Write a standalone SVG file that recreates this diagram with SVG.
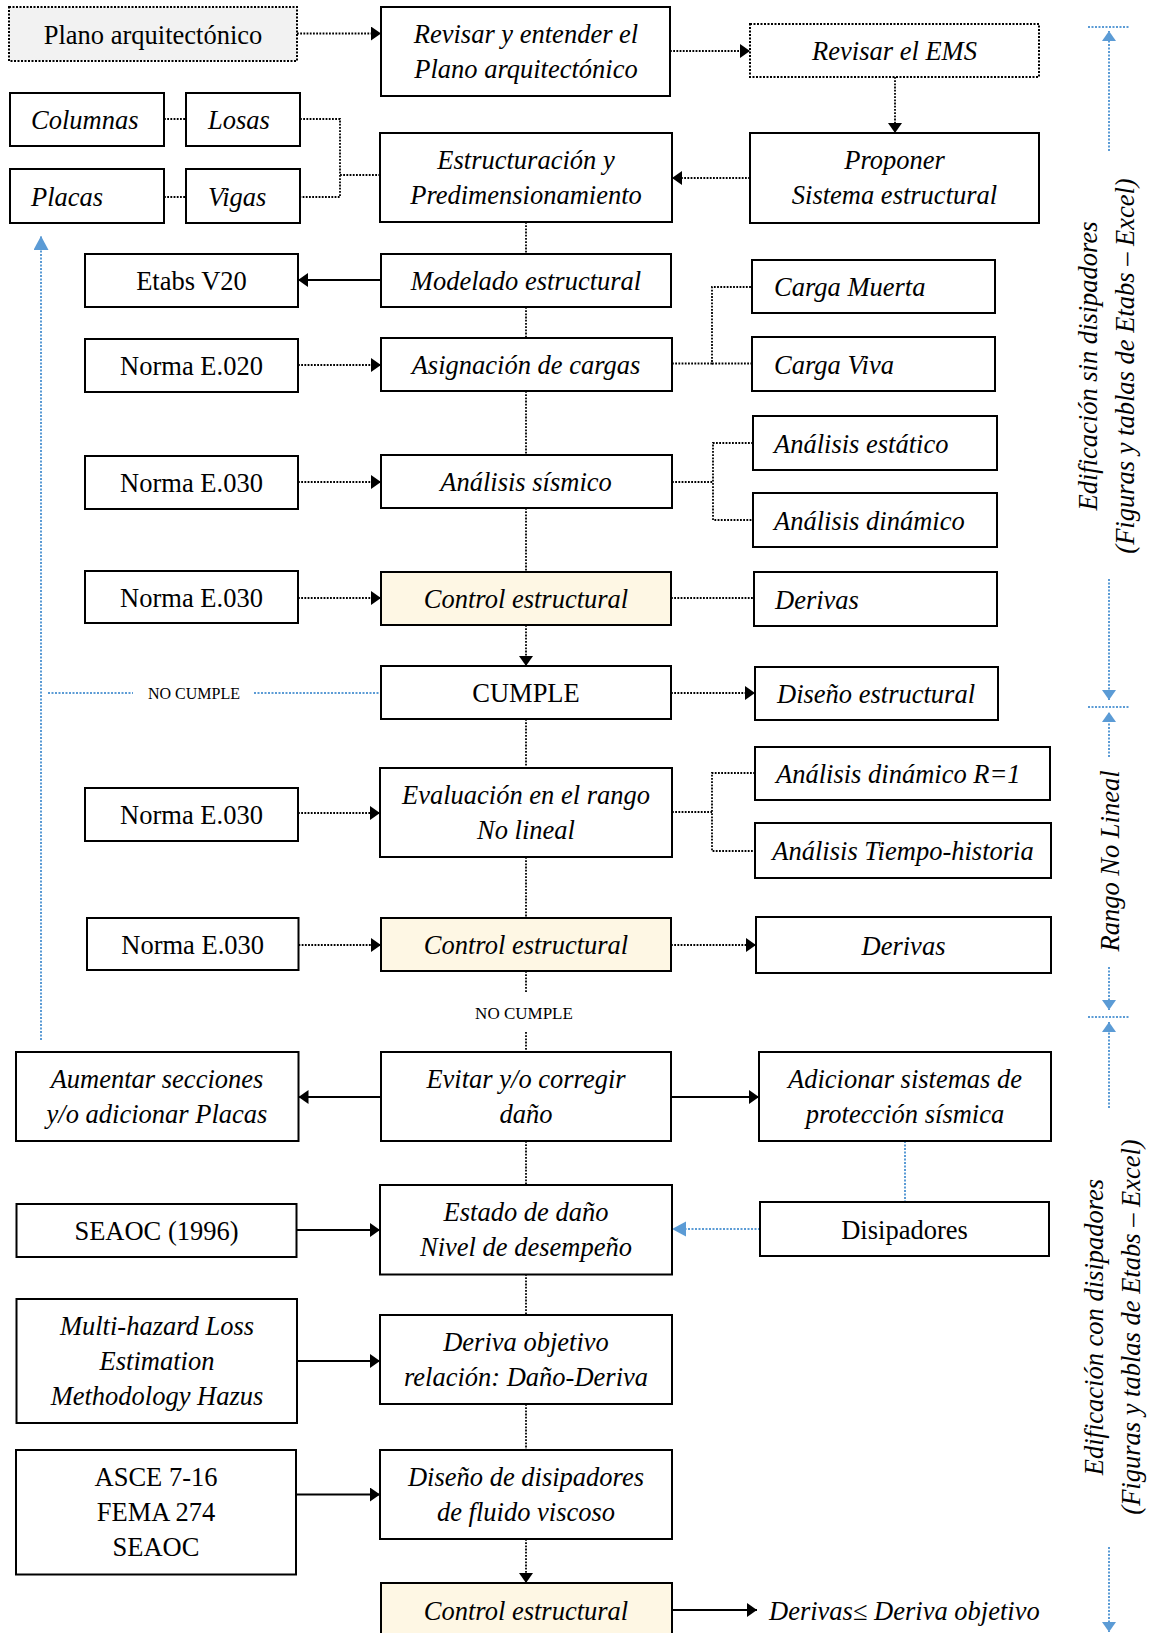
<svg xmlns="http://www.w3.org/2000/svg" width="1149" height="1633" viewBox="0 0 1149 1633">
<style>
.b{fill:#fff;stroke:#000;stroke-width:2}
.db{fill:#fff;stroke:#000;stroke-width:2;stroke-dasharray:2 1.5}
.gray{fill:#f2f2f2}
.cr{fill:#fef7e4}
text{font-family:"Liberation Serif","Times New Roman",serif;font-size:26.5px;fill:#000}
.i{font-style:italic}
.c{text-anchor:middle}
.sm{font-size:16px}
.dot{stroke:#000;stroke-width:1.8;stroke-dasharray:1.8 1.4;fill:none}
.sol{stroke:#000;stroke-width:2;fill:none}
.bl{stroke:#5b9bd5;stroke-width:2;stroke-dasharray:2 1.5;fill:none}
</style>
<defs>
<marker id="ah" markerUnits="userSpaceOnUse" markerWidth="11" markerHeight="15" refX="10" refY="7" orient="auto"><path d="M0,0 L10,7 L0,14 z" fill="#000"/></marker>
<marker id="bh" markerUnits="userSpaceOnUse" markerWidth="15" markerHeight="16" refX="14" refY="7.5" orient="auto"><path d="M0,0 L14,7.5 L0,15 z" fill="#5b9bd5"/></marker>
<marker id="bs" markerUnits="userSpaceOnUse" markerWidth="11" markerHeight="15" refX="10" refY="7" orient="auto"><path d="M0,0 L10,7 L0,14 z" fill="#5b9bd5"/></marker>
</defs>

<g id="connectors">
<!-- top flow -->
<path class="dot" d="M297,33.5 H381" marker-end="url(#ah)"/>
<path class="dot" d="M670,51 H750" marker-end="url(#ah)"/>
<path class="dot" d="M895,77 V133" marker-end="url(#ah)"/>
<path class="dot" d="M750,178 H672" marker-end="url(#ah)"/>
<!-- element brackets -->
<path class="dot" d="M164,119 H186"/>
<path class="dot" d="M164,197 H186"/>
<path class="dot" d="M300,119 H340 V197 H300"/>
<path class="dot" d="M340,175 H380"/>
<!-- main vertical -->
<path class="dot" d="M526,222 V254"/>
<path class="dot" d="M526,307 V338"/>
<path class="dot" d="M526,391 V455"/>
<path class="dot" d="M526,508 V572"/>
<path class="dot" d="M526,625 V666" marker-end="url(#ah)"/>
<path class="dot" d="M526,719 V768"/>
<path class="dot" d="M526,857 V918"/>
<path class="dot" d="M526,971 V992"/>
<path class="dot" d="M526,1032 V1052"/>
<path class="dot" d="M526,1141 V1185"/>
<path class="dot" d="M526,1274 V1315"/>
<path class="dot" d="M526,1404 V1450"/>
<path class="dot" d="M526,1539 V1583" marker-end="url(#ah)"/>
<!-- left inputs -->
<path class="sol" d="M381,280 H298" marker-end="url(#ah)"/>
<path class="dot" d="M298,365 H381" marker-end="url(#ah)"/>
<path class="dot" d="M298,482 H381" marker-end="url(#ah)"/>
<path class="dot" d="M298,598 H381" marker-end="url(#ah)"/>
<path class="dot" d="M298,813 H380" marker-end="url(#ah)"/>
<path class="dot" d="M298.5,945 H381" marker-end="url(#ah)"/>
<path class="sol" d="M381,1097 H298.5" marker-end="url(#ah)"/>
<path class="sol" d="M297,1230 H380" marker-end="url(#ah)"/>
<path class="sol" d="M297,1361 H380" marker-end="url(#ah)"/>
<path class="sol" d="M296,1494.5 H380" marker-end="url(#ah)"/>
<!-- right outputs -->
<path class="dot" d="M672,363.5 H712 V287 H752"/>
<path class="dot" d="M712,363.5 H752"/>
<path class="dot" d="M672,482 H713"/>
<path class="dot" d="M753,443 H713 V520 H753"/>
<path class="dot" d="M671,598 H754"/>
<path class="dot" d="M671,693 H755" marker-end="url(#ah)"/>
<path class="dot" d="M672,812 H712"/>
<path class="dot" d="M755,773 H712 V851 H755"/>
<path class="dot" d="M671,945 H756" marker-end="url(#ah)"/>
<path class="sol" d="M671,1097 H759" marker-end="url(#ah)"/>
<path class="sol" d="M672,1610 H757" marker-end="url(#ah)"/>
<!-- blue -->
<path class="bl" d="M905,1141 V1202"/>
<path class="bl" d="M760,1229 H672" marker-end="url(#bh)"/>
<path class="bl" d="M41,1040 V236" marker-end="url(#bh)"/>
<path class="bl" d="M48,693 H133"/>
<path class="bl" d="M254,693 H381"/>
<!-- right side range markers -->
<path class="bl" d="M1088,27 H1130"/>
<path class="bl" d="M1109,151 V31" marker-end="url(#bs)"/>
<path class="bl" d="M1109,579 V700" marker-end="url(#bs)"/>
<path class="bl" d="M1088,707 H1130"/>
<path class="bl" d="M1109,757 V712" marker-end="url(#bs)"/>
<path class="bl" d="M1109,967 V1010" marker-end="url(#bs)"/>
<path class="bl" d="M1088,1017 H1130"/>
<path class="bl" d="M1109,1108 V1022" marker-end="url(#bs)"/>
<path class="bl" d="M1109,1547 V1632" marker-end="url(#bs)"/>
</g>

<g id="labels">
<text class="c sm" x="194" y="699">NO CUMPLE</text>
<text class="c" x="524" y="1019" style="font-size:17px">NO CUMPLE</text>
<text class="i" x="769" y="1620">Derivas≤ Deriva objetivo</text>
<text class="i c" transform="translate(1097,366) rotate(-90)">Edificación sin disipadores</text>
<text class="i c" transform="translate(1134,366) rotate(-90)">(Figuras y tablas de Etabs – Excel)</text>
<text class="i c" transform="translate(1119,861) rotate(-90)">Rango No Lineal</text>
<text class="i c" transform="translate(1103,1327) rotate(-90)">Edificación con disipadores</text>
<text class="i c" transform="translate(1140,1327) rotate(-90)">(Figuras y tablas de Etabs – Excel)</text>
</g>

<g id="n-plano"><rect class="db gray" x="9" y="7" width="288" height="54"/><text class="c" x="153" y="43.5">Plano arquitectónico</text></g>
<g id="n-revisar"><rect class="b" x="381" y="7" width="289" height="89"/><text class="i c" x="526" y="42.7">Revisar y entender el</text><text class="i c" x="526" y="77.7">Plano arquitectónico</text></g>
<g id="n-ems"><rect class="db" x="750" y="24" width="289" height="53"/><text class="i c" x="894.5" y="60">Revisar el EMS</text></g>
<g id="n-proponer"><rect class="b" x="750" y="133" width="289" height="90"/><text class="i c" x="894.5" y="169">Proponer</text><text class="i c" x="894.5" y="204">Sistema estructural</text></g>
<g id="n-estruct"><rect class="b" x="380" y="133" width="292" height="89"/><text class="i c" x="526" y="168.7">Estructuración y</text><text class="i c" x="526" y="203.7">Predimensionamiento</text></g>
<g id="n-columnas"><rect class="b" x="10" y="93" width="154" height="53"/><text class="i" x="31" y="129">Columnas</text></g>
<g id="n-losas"><rect class="b" x="186" y="93" width="114" height="53"/><text class="i" x="208" y="129">Losas</text></g>
<g id="n-placas"><rect class="b" x="10" y="169" width="154" height="54"/><text class="i" x="31" y="205.5">Placas</text></g>
<g id="n-vigas"><rect class="b" x="186" y="169" width="114" height="54"/><text class="i" x="208" y="205.5">Vigas</text></g>
<g id="n-etabs"><rect class="b" x="85" y="254" width="213" height="53"/><text class="c" x="191.5" y="290">Etabs V20</text></g>
<g id="n-modelado"><rect class="b" x="381" y="254" width="290" height="53"/><text class="i c" x="526" y="290">Modelado estructural</text></g>
<g id="n-cm"><rect class="b" x="752" y="260" width="243" height="53"/><text class="i" x="774" y="296">Carga Muerta</text></g>
<g id="n-e020"><rect class="b" x="85" y="339" width="213" height="53"/><text class="c" x="191.5" y="375">Norma E.020</text></g>
<g id="n-asig"><rect class="b" x="381" y="338" width="291" height="53"/><text class="i c" x="526" y="374">Asignación de cargas</text></g>
<g id="n-cv"><rect class="b" x="752" y="337" width="243" height="54"/><text class="i" x="774" y="373.5">Carga Viva</text></g>
<g id="n-aest"><rect class="b" x="753" y="416" width="244" height="54"/><text class="i" x="774" y="452.5">Análisis estático</text></g>
<g id="n-e030a"><rect class="b" x="85" y="456" width="213" height="53"/><text class="c" x="191.5" y="492">Norma E.030</text></g>
<g id="n-asis"><rect class="b" x="381" y="455" width="291" height="53"/><text class="i c" x="526" y="491">Análisis sísmico</text></g>
<g id="n-adin"><rect class="b" x="753" y="493" width="244" height="54"/><text class="i" x="774" y="529.5">Análisis dinámico</text></g>
<g id="n-e030b"><rect class="b" x="85" y="571" width="213" height="52"/><text class="c" x="191.5" y="606.5">Norma E.030</text></g>
<g id="n-control1"><rect class="b cr" x="381" y="572" width="290" height="53"/><text class="i c" x="526" y="608">Control estructural</text></g>
<g id="n-der1"><rect class="b" x="754" y="572" width="243" height="54"/><text class="i" x="775" y="608.5">Derivas</text></g>
<g id="n-cumple"><rect class="b" x="381" y="666" width="290" height="53"/><text class="c" x="526" y="702">CUMPLE</text></g>
<g id="n-diseno"><rect class="b" x="755" y="667" width="243" height="53"/><text class="i" x="777" y="703">Diseño estructural</text></g>
<g id="n-adr1"><rect class="b" x="755" y="747" width="295" height="53"/><text class="i" x="776" y="783">Análisis dinámico R=1</text></g>
<g id="n-eval"><rect class="b" x="380" y="768" width="292" height="89"/><text class="i c" x="526" y="803.7">Evaluación en el rango</text><text class="i c" x="526" y="838.7">No lineal</text></g>
<g id="n-e030c"><rect class="b" x="85" y="788" width="213" height="53"/><text class="c" x="191.5" y="824">Norma E.030</text></g>
<g id="n-ath"><rect class="b" x="755" y="823" width="296" height="55"/><text class="i c" x="903" y="860">Análisis Tiempo-historia</text></g>
<g id="n-e030d"><rect class="b" x="87" y="918" width="211.5" height="52"/><text class="c" x="192.7" y="953.5">Norma E.030</text></g>
<g id="n-control2"><rect class="b cr" x="381" y="918" width="290" height="53"/><text class="i c" x="526" y="954">Control estructural</text></g>
<g id="n-der2"><rect class="b" x="756" y="917" width="295" height="56"/><text class="i c" x="903.5" y="954.5">Derivas</text></g>
<g id="n-aumentar"><rect class="b" x="16" y="1052" width="282.5" height="89"/><text class="i c" x="157" y="1087.7">Aumentar secciones</text><text class="i c" x="157" y="1122.7">y/o adicionar Placas</text></g>
<g id="n-evitar"><rect class="b" x="381" y="1052" width="290" height="89"/><text class="i c" x="526" y="1087.7">Evitar y/o corregir</text><text class="i c" x="526" y="1122.7">daño</text></g>
<g id="n-adicionar"><rect class="b" x="759" y="1052" width="292" height="89"/><text class="i c" x="905" y="1087.7">Adicionar sistemas de</text><text class="i c" x="905" y="1122.7">protección sísmica</text></g>
<g id="n-seaoc"><rect class="b" x="16.5" y="1204" width="280" height="53"/><text class="c" x="156.5" y="1240">SEAOC (1996)</text></g>
<g id="n-estado"><rect class="b" x="380" y="1185" width="292" height="89.5"/><text class="i c" x="526" y="1221">Estado de daño</text><text class="i c" x="526" y="1256">Nivel de desempeño</text></g>
<g id="n-disip"><rect class="b" x="760" y="1202" width="289" height="54"/><text class="c" x="904.5" y="1238.5">Disipadores</text></g>
<g id="n-hazus"><rect class="b" x="16.5" y="1299" width="280.5" height="124"/><text class="i c" x="157" y="1334.7">Multi-hazard Loss</text><text class="i c" x="157" y="1370">Estimation</text><text class="i c" x="157" y="1405.4">Methodology Hazus</text></g>
<g id="n-deriva"><rect class="b" x="380" y="1315" width="292" height="89"/><text class="i c" x="526" y="1350.7">Deriva objetivo</text><text class="i c" x="526" y="1385.7">relación: Daño-Deriva</text></g>
<g id="n-asce"><rect class="b" x="16" y="1450" width="280" height="124.5"/><text class="c" x="156" y="1486">ASCE 7-16</text><text class="c" x="156" y="1521">FEMA 274</text><text class="c" x="156" y="1556">SEAOC</text></g>
<g id="n-ddis"><rect class="b" x="380" y="1450" width="292" height="89"/><text class="i c" x="526" y="1485.7">Diseño de disipadores</text><text class="i c" x="526" y="1520.7">de fluido viscoso</text></g>
<g id="n-control3"><rect class="b cr" x="381" y="1583" width="291" height="54"/><text class="i c" x="526" y="1620">Control estructural</text></g>
</svg>
